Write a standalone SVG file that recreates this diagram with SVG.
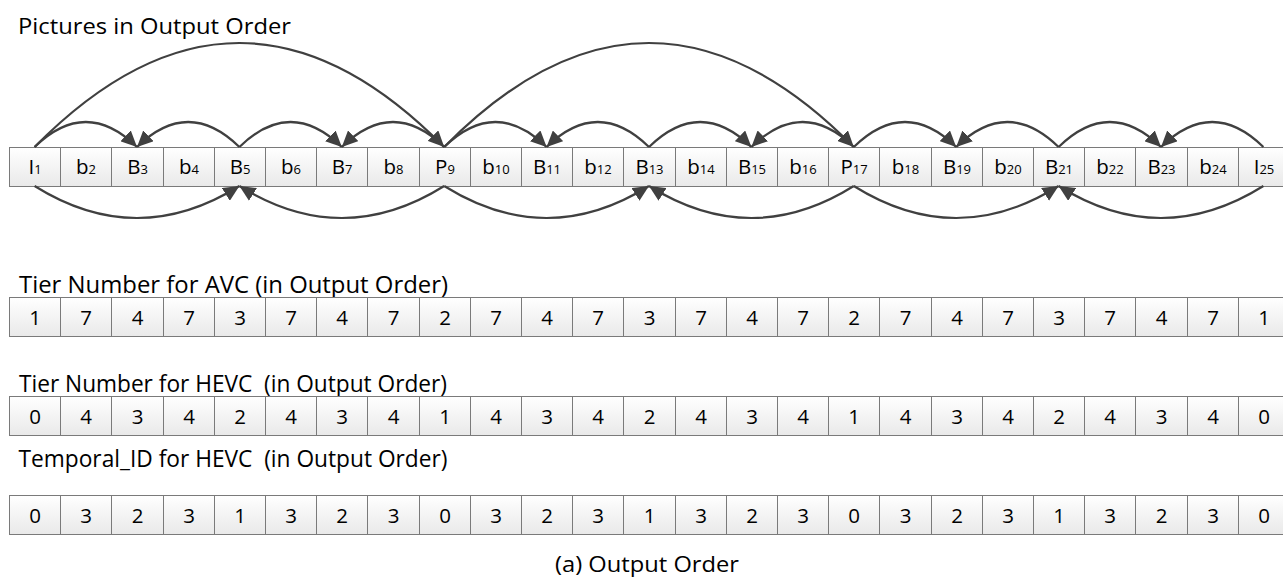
<svg xmlns="http://www.w3.org/2000/svg" width="1283" height="579" viewBox="0 0 1283 579">
<style>
.c{fill:url(#g);stroke:#7a7a7a;stroke-width:1}
.h{font-family:"Open Sans","Noto Sans","Liberation Sans",sans-serif;font-size:23.5px;fill:#000;white-space:pre}
.l{font-family:"Open Sans","Noto Sans","Liberation Sans",sans-serif;font-size:20.5px;fill:#000;text-anchor:middle}
.s{font-size:13px}
.n{font-family:"Open Sans","Noto Sans","Liberation Sans",sans-serif;font-size:20.5px;fill:#000;text-anchor:middle}
.a{fill:none;stroke:#404040;stroke-width:2.2;marker-end:url(#ah)}
</style>
<defs>
<linearGradient id="g" x1="0" y1="0" x2="0" y2="1">
<stop offset="0" stop-color="#ffffff"/>
<stop offset="1" stop-color="#e9e9e9"/>
</linearGradient>
<marker id="ah" markerUnits="userSpaceOnUse" markerWidth="17" markerHeight="15" refX="16" refY="7.5" orient="auto">
<path d="M0,0 L16,7.5 L0,15 z" fill="#404040"/>
</marker>
</defs>
<rect width="1283" height="579" fill="#fff"/>

<g id="headings">
<text id="h-pictures" class="h" x="18" y="34" style="font-size:22.5px" textLength="273" lengthAdjust="spacingAndGlyphs">Pictures in Output Order</text>
<text id="h-avc" class="h" x="19" y="292.5" textLength="429" lengthAdjust="spacingAndGlyphs">Tier Number for AVC (in Output Order)</text>
<text id="h-hevc" class="h" x="19" y="391.5" xml:space="preserve" textLength="428" lengthAdjust="spacingAndGlyphs">Tier Number for HEVC  (in Output Order)</text>
<text id="h-tid" class="h" x="18.5" y="466.5" xml:space="preserve" textLength="429" lengthAdjust="spacingAndGlyphs">Temporal_ID for HEVC  (in Output Order)</text>
<text id="caption" class="h" x="555" y="572" style="font-size:22px" textLength="184" lengthAdjust="spacingAndGlyphs">(a) Output Order</text>
</g>

<g id="pictures">
<g id="p-I1"><rect class="c" x="9.5" y="147.5" width="51" height="39"/><text class="l" x="35" y="174">I<tspan class="s">1</tspan></text></g>
<g id="p-b2"><rect class="c" x="60.5" y="147.5" width="51" height="39"/><text class="l" x="86" y="174">b<tspan class="s">2</tspan></text></g>
<g id="p-B3"><rect class="c" x="111.5" y="147.5" width="52" height="39"/><text class="l" x="137.5" y="174">B<tspan class="s">3</tspan></text></g>
<g id="p-b4"><rect class="c" x="163.5" y="147.5" width="51" height="39"/><text class="l" x="189" y="174">b<tspan class="s">4</tspan></text></g>
<g id="p-B5"><rect class="c" x="214.5" y="147.5" width="51" height="39"/><text class="l" x="240" y="174">B<tspan class="s">5</tspan></text></g>
<g id="p-b6"><rect class="c" x="265.5" y="147.5" width="51" height="39"/><text class="l" x="291" y="174">b<tspan class="s">6</tspan></text></g>
<g id="p-B7"><rect class="c" x="316.5" y="147.5" width="51" height="39"/><text class="l" x="342" y="174">B<tspan class="s">7</tspan></text></g>
<g id="p-b8"><rect class="c" x="367.5" y="147.5" width="52" height="39"/><text class="l" x="393.5" y="174">b<tspan class="s">8</tspan></text></g>
<g id="p-P9"><rect class="c" x="419.5" y="147.5" width="51" height="39"/><text class="l" x="445" y="174">P<tspan class="s">9</tspan></text></g>
<g id="p-b10"><rect class="c" x="470.5" y="147.5" width="51" height="39"/><text class="l" x="496" y="174">b<tspan class="s">10</tspan></text></g>
<g id="p-B11"><rect class="c" x="521.5" y="147.5" width="51" height="39"/><text class="l" x="547" y="174">B<tspan class="s">11</tspan></text></g>
<g id="p-b12"><rect class="c" x="572.5" y="147.5" width="51" height="39"/><text class="l" x="598" y="174">b<tspan class="s">12</tspan></text></g>
<g id="p-B13"><rect class="c" x="623.5" y="147.5" width="52" height="39"/><text class="l" x="649.5" y="174">B<tspan class="s">13</tspan></text></g>
<g id="p-b14"><rect class="c" x="675.5" y="147.5" width="51" height="39"/><text class="l" x="701" y="174">b<tspan class="s">14</tspan></text></g>
<g id="p-B15"><rect class="c" x="726.5" y="147.5" width="51" height="39"/><text class="l" x="752" y="174">B<tspan class="s">15</tspan></text></g>
<g id="p-b16"><rect class="c" x="777.5" y="147.5" width="51" height="39"/><text class="l" x="803" y="174">b<tspan class="s">16</tspan></text></g>
<g id="p-P17"><rect class="c" x="828.5" y="147.5" width="51" height="39"/><text class="l" x="854" y="174">P<tspan class="s">17</tspan></text></g>
<g id="p-b18"><rect class="c" x="879.5" y="147.5" width="52" height="39"/><text class="l" x="905.5" y="174">b<tspan class="s">18</tspan></text></g>
<g id="p-B19"><rect class="c" x="931.5" y="147.5" width="51" height="39"/><text class="l" x="957" y="174">B<tspan class="s">19</tspan></text></g>
<g id="p-b20"><rect class="c" x="982.5" y="147.5" width="51" height="39"/><text class="l" x="1008" y="174">b<tspan class="s">20</tspan></text></g>
<g id="p-B21"><rect class="c" x="1033.5" y="147.5" width="51" height="39"/><text class="l" x="1059" y="174">B<tspan class="s">21</tspan></text></g>
<g id="p-b22"><rect class="c" x="1084.5" y="147.5" width="51" height="39"/><text class="l" x="1110" y="174">b<tspan class="s">22</tspan></text></g>
<g id="p-B23"><rect class="c" x="1135.5" y="147.5" width="52" height="39"/><text class="l" x="1161.5" y="174">B<tspan class="s">23</tspan></text></g>
<g id="p-b24"><rect class="c" x="1187.5" y="147.5" width="51" height="39"/><text class="l" x="1213" y="174">b<tspan class="s">24</tspan></text></g>
<g id="p-I25"><rect class="c" x="1238.5" y="147.5" width="51" height="39"/><text class="l" x="1264" y="174">I<tspan class="s">25</tspan></text></g>
</g>

<g id="connectors">
<path class="a" d="M34.6 147 Q85.8 97 137 147"/>
<path class="a" d="M239.4 147 Q188.2 97 137 147"/>
<path class="a" d="M239.4 147 Q290.6 97 341.8 147"/>
<path class="a" d="M444.2 147 Q393 97 341.8 147"/>
<path class="a" d="M444.2 147 Q495.4 97 546.6 147"/>
<path class="a" d="M649 147 Q597.8 97 546.6 147"/>
<path class="a" d="M649 147 Q700.2 97 751.4 147"/>
<path class="a" d="M853.8 147 Q802.6 97 751.4 147"/>
<path class="a" d="M853.8 147 Q905 97 956.2 147"/>
<path class="a" d="M1058.6 147 Q1007.4 97 956.2 147"/>
<path class="a" d="M1058.6 147 Q1109.8 97 1161 147"/>
<path class="a" d="M1263.4 147 Q1212.2 97 1161 147"/>
<path class="a" d="M34.6 147 Q239.4 -61 444.2 147"/>
<path class="a" d="M444.2 147 Q649 -61 853.8 147"/>
<path class="a" d="M34.6 186 Q137 250 239.4 186"/>
<path class="a" d="M444.2 186 Q341.8 250 239.4 186"/>
<path class="a" d="M444.2 186 Q546.6 250 649 186"/>
<path class="a" d="M853.8 186 Q751.4 250 649 186"/>
<path class="a" d="M853.8 186 Q956.2 250 1058.6 186"/>
<path class="a" d="M1263.4 186 Q1161 250 1058.6 186"/>
</g>

<g id="avc">
<g id="avc-1"><rect class="c" x="9.5" y="297.5" width="51" height="39"/><text class="n" x="35" y="325">1</text></g>
<g id="avc-2"><rect class="c" x="60.5" y="297.5" width="51" height="39"/><text class="n" x="86" y="325">7</text></g>
<g id="avc-3"><rect class="c" x="111.5" y="297.5" width="52" height="39"/><text class="n" x="137.5" y="325">4</text></g>
<g id="avc-4"><rect class="c" x="163.5" y="297.5" width="51" height="39"/><text class="n" x="189" y="325">7</text></g>
<g id="avc-5"><rect class="c" x="214.5" y="297.5" width="51" height="39"/><text class="n" x="240" y="325">3</text></g>
<g id="avc-6"><rect class="c" x="265.5" y="297.5" width="51" height="39"/><text class="n" x="291" y="325">7</text></g>
<g id="avc-7"><rect class="c" x="316.5" y="297.5" width="51" height="39"/><text class="n" x="342" y="325">4</text></g>
<g id="avc-8"><rect class="c" x="367.5" y="297.5" width="52" height="39"/><text class="n" x="393.5" y="325">7</text></g>
<g id="avc-9"><rect class="c" x="419.5" y="297.5" width="51" height="39"/><text class="n" x="445" y="325">2</text></g>
<g id="avc-10"><rect class="c" x="470.5" y="297.5" width="51" height="39"/><text class="n" x="496" y="325">7</text></g>
<g id="avc-11"><rect class="c" x="521.5" y="297.5" width="51" height="39"/><text class="n" x="547" y="325">4</text></g>
<g id="avc-12"><rect class="c" x="572.5" y="297.5" width="51" height="39"/><text class="n" x="598" y="325">7</text></g>
<g id="avc-13"><rect class="c" x="623.5" y="297.5" width="52" height="39"/><text class="n" x="649.5" y="325">3</text></g>
<g id="avc-14"><rect class="c" x="675.5" y="297.5" width="51" height="39"/><text class="n" x="701" y="325">7</text></g>
<g id="avc-15"><rect class="c" x="726.5" y="297.5" width="51" height="39"/><text class="n" x="752" y="325">4</text></g>
<g id="avc-16"><rect class="c" x="777.5" y="297.5" width="51" height="39"/><text class="n" x="803" y="325">7</text></g>
<g id="avc-17"><rect class="c" x="828.5" y="297.5" width="51" height="39"/><text class="n" x="854" y="325">2</text></g>
<g id="avc-18"><rect class="c" x="879.5" y="297.5" width="52" height="39"/><text class="n" x="905.5" y="325">7</text></g>
<g id="avc-19"><rect class="c" x="931.5" y="297.5" width="51" height="39"/><text class="n" x="957" y="325">4</text></g>
<g id="avc-20"><rect class="c" x="982.5" y="297.5" width="51" height="39"/><text class="n" x="1008" y="325">7</text></g>
<g id="avc-21"><rect class="c" x="1033.5" y="297.5" width="51" height="39"/><text class="n" x="1059" y="325">3</text></g>
<g id="avc-22"><rect class="c" x="1084.5" y="297.5" width="51" height="39"/><text class="n" x="1110" y="325">7</text></g>
<g id="avc-23"><rect class="c" x="1135.5" y="297.5" width="52" height="39"/><text class="n" x="1161.5" y="325">4</text></g>
<g id="avc-24"><rect class="c" x="1187.5" y="297.5" width="51" height="39"/><text class="n" x="1213" y="325">7</text></g>
<g id="avc-25"><rect class="c" x="1238.5" y="297.5" width="51" height="39"/><text class="n" x="1264" y="325">1</text></g>
</g>

<g id="hevc-tier">
<g id="ht-1"><rect class="c" x="9.5" y="396.5" width="51" height="39"/><text class="n" x="35" y="424">0</text></g>
<g id="ht-2"><rect class="c" x="60.5" y="396.5" width="51" height="39"/><text class="n" x="86" y="424">4</text></g>
<g id="ht-3"><rect class="c" x="111.5" y="396.5" width="52" height="39"/><text class="n" x="137.5" y="424">3</text></g>
<g id="ht-4"><rect class="c" x="163.5" y="396.5" width="51" height="39"/><text class="n" x="189" y="424">4</text></g>
<g id="ht-5"><rect class="c" x="214.5" y="396.5" width="51" height="39"/><text class="n" x="240" y="424">2</text></g>
<g id="ht-6"><rect class="c" x="265.5" y="396.5" width="51" height="39"/><text class="n" x="291" y="424">4</text></g>
<g id="ht-7"><rect class="c" x="316.5" y="396.5" width="51" height="39"/><text class="n" x="342" y="424">3</text></g>
<g id="ht-8"><rect class="c" x="367.5" y="396.5" width="52" height="39"/><text class="n" x="393.5" y="424">4</text></g>
<g id="ht-9"><rect class="c" x="419.5" y="396.5" width="51" height="39"/><text class="n" x="445" y="424">1</text></g>
<g id="ht-10"><rect class="c" x="470.5" y="396.5" width="51" height="39"/><text class="n" x="496" y="424">4</text></g>
<g id="ht-11"><rect class="c" x="521.5" y="396.5" width="51" height="39"/><text class="n" x="547" y="424">3</text></g>
<g id="ht-12"><rect class="c" x="572.5" y="396.5" width="51" height="39"/><text class="n" x="598" y="424">4</text></g>
<g id="ht-13"><rect class="c" x="623.5" y="396.5" width="52" height="39"/><text class="n" x="649.5" y="424">2</text></g>
<g id="ht-14"><rect class="c" x="675.5" y="396.5" width="51" height="39"/><text class="n" x="701" y="424">4</text></g>
<g id="ht-15"><rect class="c" x="726.5" y="396.5" width="51" height="39"/><text class="n" x="752" y="424">3</text></g>
<g id="ht-16"><rect class="c" x="777.5" y="396.5" width="51" height="39"/><text class="n" x="803" y="424">4</text></g>
<g id="ht-17"><rect class="c" x="828.5" y="396.5" width="51" height="39"/><text class="n" x="854" y="424">1</text></g>
<g id="ht-18"><rect class="c" x="879.5" y="396.5" width="52" height="39"/><text class="n" x="905.5" y="424">4</text></g>
<g id="ht-19"><rect class="c" x="931.5" y="396.5" width="51" height="39"/><text class="n" x="957" y="424">3</text></g>
<g id="ht-20"><rect class="c" x="982.5" y="396.5" width="51" height="39"/><text class="n" x="1008" y="424">4</text></g>
<g id="ht-21"><rect class="c" x="1033.5" y="396.5" width="51" height="39"/><text class="n" x="1059" y="424">2</text></g>
<g id="ht-22"><rect class="c" x="1084.5" y="396.5" width="51" height="39"/><text class="n" x="1110" y="424">4</text></g>
<g id="ht-23"><rect class="c" x="1135.5" y="396.5" width="52" height="39"/><text class="n" x="1161.5" y="424">3</text></g>
<g id="ht-24"><rect class="c" x="1187.5" y="396.5" width="51" height="39"/><text class="n" x="1213" y="424">4</text></g>
<g id="ht-25"><rect class="c" x="1238.5" y="396.5" width="51" height="39"/><text class="n" x="1264" y="424">0</text></g>
</g>

<g id="hevc-tid">
<g id="tid-1"><rect class="c" x="9.5" y="495.5" width="51" height="39"/><text class="n" x="35" y="523">0</text></g>
<g id="tid-2"><rect class="c" x="60.5" y="495.5" width="51" height="39"/><text class="n" x="86" y="523">3</text></g>
<g id="tid-3"><rect class="c" x="111.5" y="495.5" width="52" height="39"/><text class="n" x="137.5" y="523">2</text></g>
<g id="tid-4"><rect class="c" x="163.5" y="495.5" width="51" height="39"/><text class="n" x="189" y="523">3</text></g>
<g id="tid-5"><rect class="c" x="214.5" y="495.5" width="51" height="39"/><text class="n" x="240" y="523">1</text></g>
<g id="tid-6"><rect class="c" x="265.5" y="495.5" width="51" height="39"/><text class="n" x="291" y="523">3</text></g>
<g id="tid-7"><rect class="c" x="316.5" y="495.5" width="51" height="39"/><text class="n" x="342" y="523">2</text></g>
<g id="tid-8"><rect class="c" x="367.5" y="495.5" width="52" height="39"/><text class="n" x="393.5" y="523">3</text></g>
<g id="tid-9"><rect class="c" x="419.5" y="495.5" width="51" height="39"/><text class="n" x="445" y="523">0</text></g>
<g id="tid-10"><rect class="c" x="470.5" y="495.5" width="51" height="39"/><text class="n" x="496" y="523">3</text></g>
<g id="tid-11"><rect class="c" x="521.5" y="495.5" width="51" height="39"/><text class="n" x="547" y="523">2</text></g>
<g id="tid-12"><rect class="c" x="572.5" y="495.5" width="51" height="39"/><text class="n" x="598" y="523">3</text></g>
<g id="tid-13"><rect class="c" x="623.5" y="495.5" width="52" height="39"/><text class="n" x="649.5" y="523">1</text></g>
<g id="tid-14"><rect class="c" x="675.5" y="495.5" width="51" height="39"/><text class="n" x="701" y="523">3</text></g>
<g id="tid-15"><rect class="c" x="726.5" y="495.5" width="51" height="39"/><text class="n" x="752" y="523">2</text></g>
<g id="tid-16"><rect class="c" x="777.5" y="495.5" width="51" height="39"/><text class="n" x="803" y="523">3</text></g>
<g id="tid-17"><rect class="c" x="828.5" y="495.5" width="51" height="39"/><text class="n" x="854" y="523">0</text></g>
<g id="tid-18"><rect class="c" x="879.5" y="495.5" width="52" height="39"/><text class="n" x="905.5" y="523">3</text></g>
<g id="tid-19"><rect class="c" x="931.5" y="495.5" width="51" height="39"/><text class="n" x="957" y="523">2</text></g>
<g id="tid-20"><rect class="c" x="982.5" y="495.5" width="51" height="39"/><text class="n" x="1008" y="523">3</text></g>
<g id="tid-21"><rect class="c" x="1033.5" y="495.5" width="51" height="39"/><text class="n" x="1059" y="523">1</text></g>
<g id="tid-22"><rect class="c" x="1084.5" y="495.5" width="51" height="39"/><text class="n" x="1110" y="523">3</text></g>
<g id="tid-23"><rect class="c" x="1135.5" y="495.5" width="52" height="39"/><text class="n" x="1161.5" y="523">2</text></g>
<g id="tid-24"><rect class="c" x="1187.5" y="495.5" width="51" height="39"/><text class="n" x="1213" y="523">3</text></g>
<g id="tid-25"><rect class="c" x="1238.5" y="495.5" width="51" height="39"/><text class="n" x="1264" y="523">0</text></g>
</g>
</svg>
